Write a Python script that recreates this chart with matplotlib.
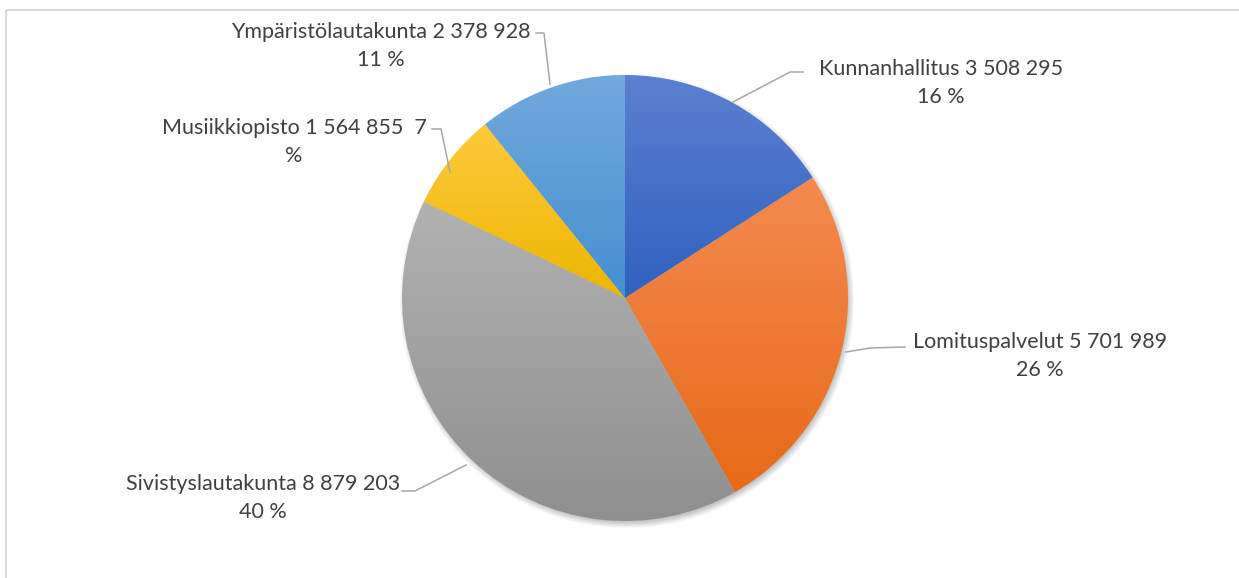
import numpy as np
import matplotlib
matplotlib.use("Agg")
import matplotlib.pyplot as plt
from matplotlib.colors import LinearSegmentedColormap

# data (clockwise from 12 o'clock)
labels = ["Kunnanhallitus", "Lomituspalvelut", "Sivistyslautakunta",
          "Musiikkiopisto", "Ympäristölautakunta"]
values = [3508295, 5701989, 8879203, 1564855, 2378928]
value_text = ["3 508 295", "5 701 989", "8 879 203", "1 564 855", "2 378 928"]

# gradient (top, bottom) for each slice
top_cols = ["#5c80d0", "#f48a50", "#b2b2b2", "#ffc93c", "#72a9dd"]
bot_cols = ["#2f61bf", "#e76a17", "#8f8f8f", "#ebb700", "#4490d0"]

W, H = 1239, 578
fig = plt.figure(figsize=(W / 100, H / 100), dpi=100)
ax = fig.add_axes([0, 0, 1, 1])

def Y(y):
    # pixel row -> axes y
    return H - y

cx, cy, R = 625, Y(298), 223

# chart frame (only top and left edges visible)
ax.plot([6, W], [Y(10), Y(10)], color="#d9d9d9", lw=1.5, solid_capstyle="butt")
ax.plot([6, 6], [Y(10), 0], color="#d9d9d9", lw=1.5, solid_capstyle="butt")

# soft shadow under the pie
gx = np.arange(cx - R - 20, cx + R + 20)
gy = np.arange(cy - R - 20, cy + R + 20)
XX, YY = np.meshgrid(gx, gy)
d = np.hypot(XX - (cx + 2), YY - (cy - 3))
a = np.clip((R + 5 - d) / 9.0, 0, 1) * 0.45
sh = np.zeros(XX.shape + (4,))
sh[..., :3] = 0.35
sh[..., 3] = a
ax.imshow(sh, extent=(gx[0], gx[-1], gy[0], gy[-1]), origin="lower",
          zorder=1, interpolation="bilinear")

wedges, _ = ax.pie(values, startangle=90, counterclock=False, center=(cx, cy),
                   radius=R, frame=True, wedgeprops=dict(linewidth=0))

for w, c1, c2 in zip(wedges, top_cols, bot_cols):
    w.set_facecolor("none")
    w.set_zorder(3)
    ext = w.get_path().get_extents(w.get_patch_transform())
    cmap = LinearSegmentedColormap.from_list("g", [c2, c1])
    grad = np.linspace(0, 1, 256).reshape(-1, 1)
    im = ax.imshow(grad, cmap=cmap, origin="lower", aspect="auto",
                   extent=(ext.x0, ext.x1, ext.y0, ext.y1), zorder=2,
                   interpolation="bilinear")
    im.set_clip_path(w)

pct = [v / sum(values) * 100 for v in values]
texts = [
    "%s %s\n%d %%" % (labels[0], value_text[0], round(pct[0])),
    "%s %s\n%d %%" % (labels[1], value_text[1], round(pct[1])),
    "%s %s\n%d %%" % (labels[2], value_text[2], round(pct[2])),
    "%s %s  %d\n%%" % (labels[3], value_text[3], round(pct[3])),
    "%s %s\n%d %%" % (labels[4], value_text[4], round(pct[4])),
]
text_pos = [(941, 83), (1040, 356), (263, 498), (294, 142), (381, 46)]
leaders = [
    [(733, 102), (790, 72), (803, 72)],
    [(846, 352), (870, 348), (905, 347)],
    [(466, 465), (415, 491), (402, 491)],
    [(432, 129), (441, 129), (450, 172)],
    [(536, 33), (544, 33), (550, 84)],
]

for t, (px, py), ld in zip(texts, text_pos, leaders):
    ax.text(px, Y(py), t, ha="center", va="center", fontsize=15.5,
            family="Lato", color="#404040", linespacing=1.45, zorder=5)
    xs = [p[0] for p in ld]
    ys = [Y(p[1]) for p in ld]
    ax.plot(xs, ys, color="#a6a6a6", lw=1.1, zorder=4)

ax.set_xlim(0, W)
ax.set_ylim(0, H)
ax.axis("off")

fig.savefig("out.png", dpi=100)
